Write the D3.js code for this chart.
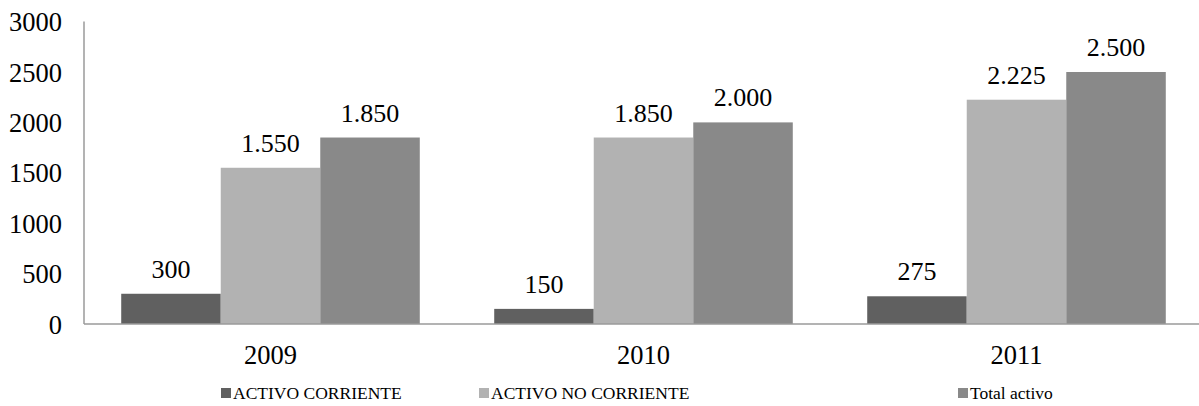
<!DOCTYPE html>
<html><head><meta charset="utf-8">
<script src="https://cdn.jsdelivr.net/npm/d3@7"></script>
<style>body{margin:0;background:#fff}svg{display:block}</style>
</head><body><svg id="c" width="1199" height="406" font-family="'Liberation Serif', 'Times New Roman', 'DejaVu Serif', serif"></svg>
<script>
const years = ["2009","2010","2011"];
const series = ["ACTIVO CORRIENTE","ACTIVO NO CORRIENTE","Total activo"];
const activoCorriente = [300,150,275];
const activoNoCorriente = [1550,1850,2225];
const totalActivo = [1850,2000,2500];
const labels = [["300","150","275"],["1.550","1.850","2.225"],["1.850","2.000","2.500"]];
const yTicks = [0,500,1000,1500,2000,2500,3000];
const colors = ["#606060","#b2b2b2","#898989"];
const values = [activoCorriente, activoNoCorriente, totalActivo];
const FONT = "'Liberation Serif', 'Times New Roman', 'DejaVu Serif', serif";

const svg = d3.select("#c");
const x0 = d3.scaleBand().domain(years).range([84,1203]).padding(0);
const x1 = d3.scaleBand().domain(series).range([0,x0.bandwidth()]).paddingInner(0).paddingOuter(0.374);
const y = d3.scaleLinear().domain([0,3000]).range([324,21.6]);

series.forEach((s,si)=>{
  svg.append("g").selectAll("rect").data(years).join("rect")
    .attr("x",(d)=>x0(d)+x1(s))
    .attr("width",x1.bandwidth())
    .attr("y",(d,i)=>y(values[si][i]))
    .attr("height",(d,i)=>y(0)-y(values[si][i]))
    .attr("fill",colors[si]);
  svg.append("g").selectAll("text").data(years).join("text")
    .attr("x",(d)=>x0(d)+x1(s)+x1.bandwidth()/2)
    .attr("y",(d,i)=>y(values[si][i])-16)
    .attr("text-anchor","middle")
    .attr("font-family",FONT).attr("font-size",26)
    .text((d,i)=>labels[si][i]);
});

svg.append("line").attr("x1",84).attr("x2",84).attr("y1",y(3000)).attr("y2",y(0)).attr("stroke","#9a9a9a").attr("stroke-width",1.5);
svg.append("line").attr("x1",84).attr("x2",1199).attr("y1",y(0)).attr("y2",y(0)).attr("stroke","#9a9a9a").attr("stroke-width",1.5);

svg.append("g").selectAll("text").data(yTicks).join("text")
  .attr("x",62).attr("y",d=>y(d)).attr("dy","0.36em")
  .attr("text-anchor","end").attr("font-family",FONT).attr("font-size",26.5).text(d=>d);

svg.append("g").selectAll("text").data(years).join("text")
  .attr("x",d=>x0(d)+x0.bandwidth()/2).attr("y",355).attr("dy","0.35em")
  .attr("text-anchor","middle").attr("font-family",FONT).attr("font-size",26.5).text(d=>d);

const legX = [221,479,958];
const lg = svg.append("g").selectAll("g").data(series).join("g")
  .attr("transform",(d,i)=>`translate(${legX[i]},393)`);
lg.append("rect").attr("x",0).attr("y",-5).attr("width",10).attr("height",10).attr("fill",(d,i)=>colors[i]);
lg.append("text").attr("x",12).attr("y",0).attr("dy","0.36em").attr("font-family",FONT).attr("font-size",17.5).text(d=>d);
</script></body></html>
